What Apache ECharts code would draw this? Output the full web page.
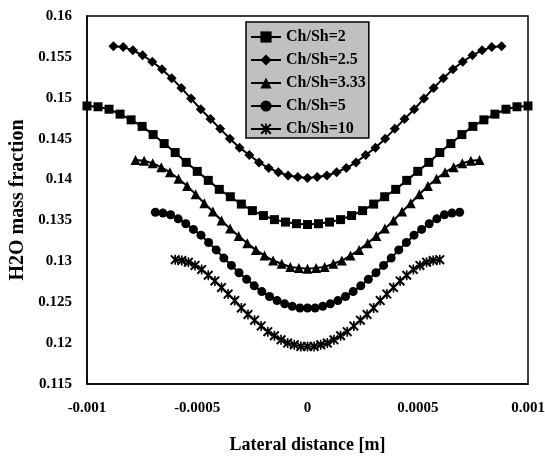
<!DOCTYPE html>
<html>
<head>
<meta charset="utf-8">
<script src="https://cdn.jsdelivr.net/npm/echarts@6/dist/echarts.min.js"></script>
<style>
html,body{margin:0;padding:0;background:#fff;}
#chart{width:545px;height:456px;}
</style>
</head>
<body>
<div id="chart"></div>
<script>
var seriesNames = ['Ch/Sh=2', 'Ch/Sh=2.5', 'Ch/Sh=3.33', 'Ch/Sh=5', 'Ch/Sh=10'];

var xTickLabels = ['-0.001', '-0.0005', '0', '0.0005', '0.001'];
var yTickLabels = ['0.115', '0.12', '0.125', '0.13', '0.135', '0.14', '0.145', '0.15', '0.155', '0.16'];

var xSquare = [-0.001,-0.00095,-0.0009,-0.00085,-0.0008,-0.00075,-0.0007,-0.00065,-0.0006,-0.00055,-0.0005,-0.00045,-0.0004,-0.00035,-0.0003,-0.00025,-0.0002,-0.00015,-0.0001,-0.00005,0,0.00005,0.0001,0.00015,0.0002,0.00025,0.0003,0.00035,0.0004,0.00045,0.0005,0.00055,0.0006,0.00065,0.0007,0.00075,0.0008,0.00085,0.0009,0.00095,0.001];
var ySquare = [0.1490,0.1489,0.1486,0.1480,0.1473,0.1465,0.1455,0.1444,0.1433,0.1421,0.1410,0.1399,0.1388,0.1379,0.1370,0.1362,0.1356,0.1351,0.1348,0.1346,0.1345,0.1346,0.1348,0.1351,0.1356,0.1362,0.1370,0.1379,0.1388,0.1399,0.1410,0.1421,0.1433,0.1444,0.1455,0.1465,0.1473,0.1480,0.1486,0.1489,0.1490];

var xDiamond = [-0.00088,-0.000836,-0.000792,-0.000748,-0.000704,-0.00066,-0.000616,-0.000572,-0.000528,-0.000484,-0.00044,-0.000396,-0.000352,-0.000308,-0.000264,-0.00022,-0.000176,-0.000132,-0.000088,-0.000044,0,0.000044,0.000088,0.000132,0.000176,0.00022,0.000264,0.000308,0.000352,0.000396,0.00044,0.000484,0.000528,0.000572,0.000616,0.00066,0.000704,0.000748,0.000792,0.000836,0.00088];
var yDiamond = [0.1563,0.1562,0.1558,0.1552,0.1544,0.1535,0.1524,0.1512,0.1499,0.1486,0.1474,0.1462,0.1450,0.1439,0.1430,0.1421,0.1414,0.1409,0.1405,0.1403,0.1402,0.1403,0.1405,0.1409,0.1414,0.1421,0.1430,0.1439,0.1450,0.1462,0.1474,0.1486,0.1499,0.1512,0.1524,0.1535,0.1544,0.1552,0.1558,0.1562,0.1563];

var xTriangle = [-0.00078,-0.000741,-0.000702,-0.000663,-0.000624,-0.000585,-0.000546,-0.000507,-0.000468,-0.000429,-0.00039,-0.000351,-0.000312,-0.000273,-0.000234,-0.000195,-0.000156,-0.000117,-0.000078,-0.000039,0,0.000039,0.000078,0.000117,0.000156,0.000195,0.000234,0.000273,0.000312,0.000351,0.00039,0.000429,0.000468,0.000507,0.000546,0.000585,0.000624,0.000663,0.000702,0.000741,0.00078];
var yTriangle = [0.1424,0.1423,0.1420,0.1415,0.1409,0.1401,0.1392,0.1382,0.1371,0.1361,0.1350,0.1340,0.1331,0.1322,0.1314,0.1307,0.1301,0.1297,0.1293,0.1292,0.1291,0.1292,0.1293,0.1297,0.1301,0.1307,0.1314,0.1322,0.1331,0.1340,0.1350,0.1361,0.1371,0.1382,0.1392,0.1401,0.1409,0.1415,0.1420,0.1423,0.1424];

var xCircle = [-0.00069,-0.0006555,-0.000621,-0.0005865,-0.000552,-0.0005175,-0.000483,-0.0004485,-0.000414,-0.0003795,-0.000345,-0.0003105,-0.000276,-0.0002415,-0.000207,-0.0001725,-0.000138,-0.0001035,-0.000069,-0.0000345,0,0.0000345,0.000069,0.0001035,0.000138,0.0001725,0.000207,0.0002415,0.000276,0.0003105,0.000345,0.0003795,0.000414,0.0004485,0.000483,0.0005175,0.000552,0.0005865,0.000621,0.0006555,0.00069];
var yCircle = [0.1360,0.1359,0.1357,0.1352,0.1346,0.1339,0.1332,0.1323,0.1314,0.1304,0.1295,0.1286,0.1278,0.1270,0.1263,0.1257,0.1252,0.1248,0.1245,0.1243,0.1243,0.1243,0.1245,0.1248,0.1252,0.1257,0.1263,0.1270,0.1278,0.1286,0.1295,0.1304,0.1314,0.1323,0.1332,0.1339,0.1346,0.1352,0.1357,0.1359,0.1360];

var xStar = [-0.0006,-0.00057,-0.00054,-0.00051,-0.00048,-0.00045,-0.00042,-0.00039,-0.00036,-0.00033,-0.0003,-0.00027,-0.00024,-0.00021,-0.00018,-0.00015,-0.00012,-0.00009,-0.00006,-0.00003,0,0.00003,0.00006,0.00009,0.00012,0.00015,0.00018,0.00021,0.00024,0.00027,0.0003,0.00033,0.00036,0.00039,0.00042,0.00045,0.00048,0.00051,0.00054,0.00057,0.0006];
var yStar = [0.1302,0.1301,0.1299,0.1295,0.1290,0.1283,0.1276,0.1268,0.1260,0.1252,0.1243,0.1235,0.1228,0.1221,0.1214,0.1209,0.1204,0.1200,0.1198,0.1196,0.1196,0.1196,0.1198,0.1200,0.1204,0.1209,0.1214,0.1221,0.1228,0.1235,0.1243,0.1252,0.1260,0.1268,0.1276,0.1283,0.1290,0.1295,0.1299,0.1301,0.1302];

function pairs(xs, ys) { return xs.map(function (x, i) { return [x, ys[i]]; }); }
function nearestLabel(labels, v) {
  var best = labels[0], d = Infinity;
  labels.forEach(function (l) { var dd = Math.abs(parseFloat(l) - v); if (dd < d) { d = dd; best = l; } });
  return best;
}

var starPath = 'path://M0,1.4 L1.4,0 L10,8.6 L8.6,10 Z M8.6,0 L10,1.4 L1.4,10 L0,8.6 Z M4.2,0 L5.8,0 L5.8,10 L4.2,10 Z';
var symbols = ['rect', 'diamond', 'triangle', 'circle', starPath];
var sizes = [9, 10, 10, 9, 10];
var datasets = [pairs(xSquare, ySquare), pairs(xDiamond, yDiamond), pairs(xTriangle, yTriangle), pairs(xCircle, yCircle), pairs(xStar, yStar)];

var serifBold = { fontFamily: 'Liberation Serif, Times New Roman, serif', fontWeight: 'bold', color: '#000' };

var chart = echarts.init(document.getElementById('chart'), null, { renderer: 'canvas' });
chart.setOption({
  animation: false,
  backgroundColor: '#fff',
  grid: { left: 87, right: 17, top: 16, bottom: 72, outerBoundsMode: 'none', containLabel: false, show: true, borderColor: '#000', borderWidth: 1.5, backgroundColor: 'transparent' },
  legend: {
    orient: 'vertical', left: 246, top: 22,
    backgroundColor: '#c0c0c0', borderColor: '#000', borderWidth: 1.5,
    padding: [7, 3, 1, 4], itemGap: 7, itemWidth: 30, itemHeight: 14,
    textStyle: Object.assign({ fontSize: 16 }, serifBold),
    data: seriesNames
  },
  xAxis: {
    type: 'value', min: -0.001, max: 0.001, interval: 0.0005,
    name: 'Lateral distance [m]', nameLocation: 'middle', nameGap: 52,
    nameTextStyle: Object.assign({ fontSize: 18 }, serifBold),
    axisLine: { show: true, onZero: false, lineStyle: { color: '#000', width: 1.5 } },
    axisTick: { show: false }, splitLine: { show: false },
    axisLabel: Object.assign({ fontSize: 15, margin: 17, formatter: function (v) { return nearestLabel(xTickLabels, v); } }, serifBold)
  },
  yAxis: {
    type: 'value', min: 0.115, max: 0.16, interval: 0.005,
    name: 'H2O mass fraction', nameLocation: 'middle', nameGap: 57,
    nameTextStyle: Object.assign({ fontSize: 20 }, serifBold),
    axisLine: { show: true, onZero: false, lineStyle: { color: '#000', width: 1.5 } },
    axisTick: { show: false }, splitLine: { show: false },
    axisLabel: Object.assign({ fontSize: 15, margin: 15, formatter: function (v) { return nearestLabel(yTickLabels, v); } }, serifBold)
  },
  series: seriesNames.map(function (n, i) {
    return {
      name: n, type: 'line', data: datasets[i],
      symbol: symbols[i], symbolSize: sizes[i], showAllSymbol: true,
      lineStyle: { color: '#000', width: 2 },
      itemStyle: { color: '#000', borderWidth: 0 },
      clip: false
    };
  })
});
</script>
</body>
</html>
